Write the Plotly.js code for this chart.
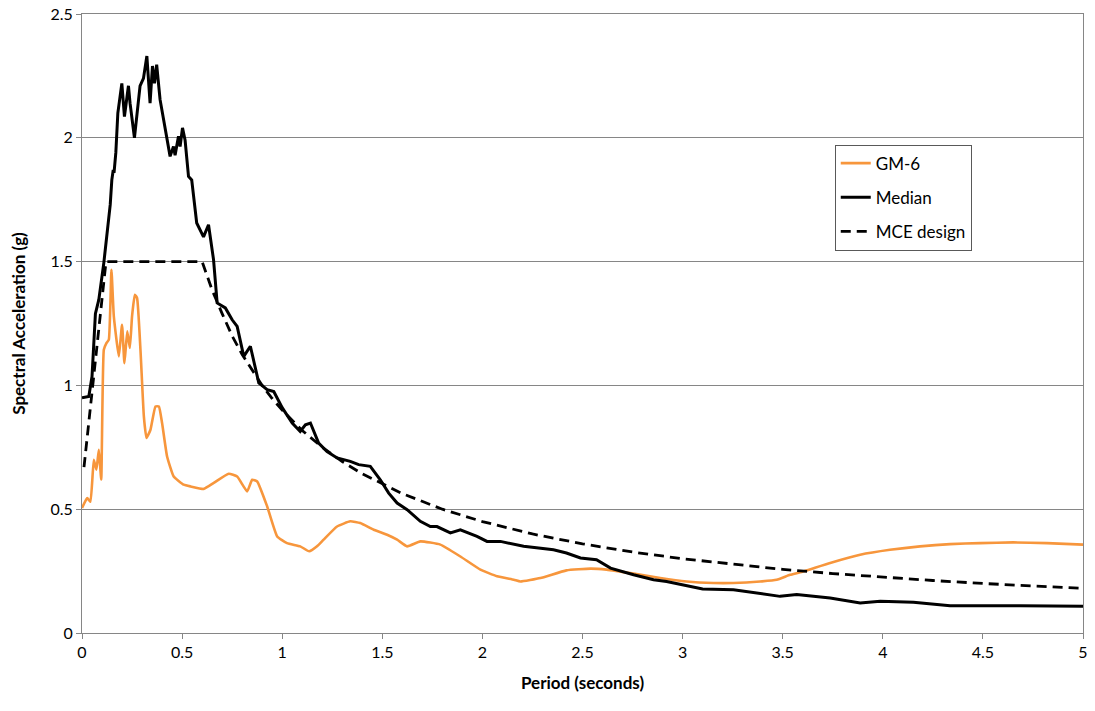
<!DOCTYPE html>
<html>
<head>
<meta charset="utf-8">
<script src="https://cdn.plot.ly/plotly-3.0.1.min.js"></script>
<style>html,body{margin:0;padding:0;background:#fff;}#chart{width:1095px;height:711px;}</style>
</head>
<body>
<div id="chart"></div>
<script>
// Period (s) and spectral acceleration (g)
const gmPeriod = [0,0.026,0.042,0.059,0.072,0.084,0.096,0.109,0.122,0.134,0.147,0.159,0.184,0.2,0.212,0.226,0.239,0.25,0.264,0.275,0.292,0.309,0.322,0.342,0.367,0.384,0.4,0.425,0.458,0.508,0.542,0.608,0.658,0.733,0.775,0.825,0.85,0.875,0.925,0.975,1.024,1.09,1.135,1.174,1.207,1.274,1.34,1.39,1.457,1.524,1.574,1.624,1.69,1.79,1.89,1.99,2.073,2.157,2.19,2.29,2.42,2.54,2.62,2.755,2.888,3.02,3.154,3.254,3.387,3.47,3.537,3.587,3.737,3.887,4.036,4.186,4.336,4.486,4.652,4.82,5.0];
const gmSa = [0.505,0.545,0.53,0.70,0.66,0.74,0.62,1.144,1.171,1.185,1.467,1.279,1.117,1.245,1.09,1.218,1.151,1.279,1.366,1.353,1.144,0.875,0.788,0.821,0.915,0.915,0.848,0.713,0.632,0.599,0.592,0.582,0.606,0.643,0.632,0.572,0.619,0.612,0.511,0.39,0.363,0.35,0.33,0.35,0.377,0.43,0.451,0.444,0.417,0.397,0.377,0.35,0.37,0.357,0.309,0.256,0.229,0.215,0.208,0.222,0.253,0.26,0.256,0.24,0.222,0.208,0.202,0.202,0.208,0.215,0.235,0.245,0.283,0.316,0.336,0.35,0.359,0.363,0.366,0.363,0.357];

const medPeriod = [0,0.034,0.05,0.067,0.084,0.109,0.141,0.149,0.156,0.16,0.169,0.179,0.199,0.212,0.232,0.24,0.262,0.29,0.307,0.324,0.34,0.352,0.362,0.373,0.39,0.415,0.44,0.457,0.465,0.482,0.49,0.502,0.515,0.532,0.548,0.573,0.607,0.632,0.657,0.675,0.716,0.75,0.775,0.808,0.841,0.883,0.925,0.958,1.0,1.05,1.09,1.116,1.141,1.182,1.224,1.274,1.34,1.382,1.44,1.49,1.532,1.574,1.624,1.69,1.74,1.773,1.84,1.89,1.973,2.023,2.09,2.206,2.29,2.355,2.42,2.49,2.57,2.64,2.755,2.855,2.92,3.0,3.1,3.254,3.37,3.487,3.57,3.737,3.887,3.987,4.153,4.336,4.685,5.0];
const medSa = [0.95,0.955,1.036,1.29,1.346,1.495,1.73,1.83,1.87,1.858,1.94,2.10,2.22,2.086,2.21,2.14,2.0,2.21,2.24,2.33,2.14,2.29,2.22,2.295,2.154,2.046,1.925,1.965,1.93,2.006,1.965,2.04,1.99,1.844,1.83,1.656,1.60,1.649,1.508,1.333,1.313,1.265,1.238,1.117,1.158,1.01,0.983,0.975,0.91,0.848,0.814,0.841,0.848,0.767,0.733,0.707,0.693,0.68,0.673,0.619,0.565,0.525,0.498,0.451,0.43,0.43,0.404,0.417,0.39,0.37,0.37,0.35,0.343,0.336,0.323,0.303,0.296,0.262,0.235,0.215,0.208,0.195,0.178,0.175,0.162,0.148,0.155,0.141,0.121,0.128,0.124,0.11,0.11,0.108];

const mcePeriod = [0.01,0.03,0.06,0.09,0.12,0.6,0.65,0.7,0.75,0.8,0.85,0.9,0.95,1.0,1.1,1.2,1.3,1.4,1.6,1.8,2.0,2.25,2.5,2.75,3.0,3.25,3.5,3.75,4.0,4.25,4.5,4.75,5.0];
const mceSa = [0.67,0.82,1.05,1.27,1.5,1.5,1.385,1.29,1.2,1.125,1.06,1.0,0.947,0.9,0.818,0.75,0.692,0.643,0.563,0.5,0.45,0.4,0.36,0.327,0.3,0.277,0.257,0.24,0.225,0.212,0.2,0.189,0.18];

const seriesNames = ['GM-6','Median','MCE design'];
const xTicks = [0,0.5,1,1.5,2,2.5,3,3.5,4,4.5,5];
const xTickText = ['0','0.5','1','1.5','2','2.5','3','3.5','4','4.5','5'];
const yTicks = [0,0.5,1,1.5,2,2.5];
const yTickText = ['0','0.5','1','1.5','2','2.5'];

const fontFam = 'Lato, "Liberation Sans", sans-serif';

const traces = [
  {x: gmPeriod, y: gmSa, name: seriesNames[0], legendgroup: 'a', type: 'scatter', mode: 'lines',
   line: {color: '#F7963C', width: 2.6, shape: 'spline', smoothing: 0.4}},
  {x: medPeriod, y: medSa, name: seriesNames[1], legendgroup: 'b', type: 'scatter', mode: 'lines',
   line: {color: '#000000', width: 3}},
  {x: mcePeriod, y: mceSa, name: seriesNames[2], legendgroup: 'c', type: 'scatter', mode: 'lines',
   line: {color: '#000000', width: 2.8, dash: '10px,6px'}}
];

const layout = {
  width: 1095, height: 711,
  margin: {l: 82, r: 12, t: 14, b: 78},
  paper_bgcolor: '#ffffff', plot_bgcolor: '#ffffff',
  font: {family: fontFam, size: 16, color: '#000'},
  showlegend: true,
  legend: {x: 0.752, y: 0.789, xanchor: 'left', yanchor: 'top',
    bordercolor: '#595959', borderwidth: 1, bgcolor: '#fff',
    font: {family: fontFam, size: 17, color: '#000'}, tracegroupgap: 9},
  xaxis: {range: [0, 5], tickvals: xTicks, ticktext: xTickText,
    showgrid: false, zeroline: false, showline: true, linecolor: '#868686', linewidth: 1,
    mirror: true, ticks: 'outside', ticklen: 5, tickcolor: '#868686',
    tickfont: {family: fontFam, size: 16, color: '#000'},
    title: {text: '<b>Period (seconds)</b>', font: {family: fontFam, size: 17, color: '#000'}, standoff: 16}},
  yaxis: {range: [0, 2.5], tickvals: yTicks, ticktext: yTickText,
    showgrid: true, gridcolor: '#868686', gridwidth: 1, zeroline: false,
    showline: true, linecolor: '#868686', linewidth: 1, mirror: true,
    ticks: 'outside', ticklen: 5, tickcolor: '#868686',
    tickfont: {family: fontFam, size: 16, color: '#000'},
    title: {text: '<b>Spectral Acceleration (g)</b>', font: {family: fontFam, size: 17, color: '#000'}, standoff: 20}}
};

Plotly.newPlot('chart', traces, layout, {displayModeBar: false, staticPlot: true});
</script>
</body>
</html>
